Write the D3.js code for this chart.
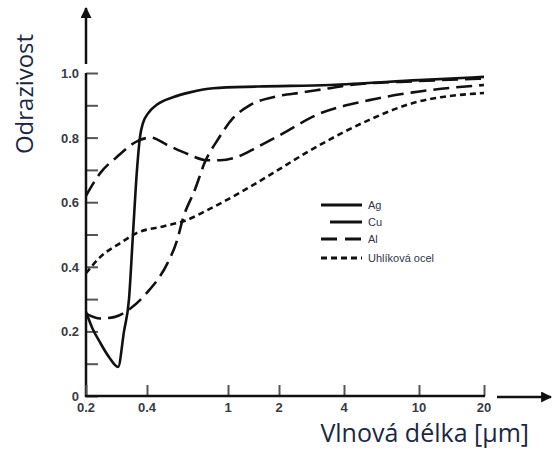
<!DOCTYPE html>
<html>
<head>
<meta charset="utf-8">
<script src="https://cdn.jsdelivr.net/npm/d3@7"></script>
<style>
  body { margin: 0; background: #fff; }
  svg { display: block; }
</style>
</head>
<body>
<svg id="chart"></svg>
<script>
// values
var xTicks = [0.2, 0.4, 1, 2, 4, 10, 20]
var xTickLabels = ['0.2', '0.4', '1', '2', '4', '10', '20']
var yTicks = [0, 0.1, 0.2, 0.3, 0.4, 0.5, 0.6, 0.7, 0.8, 0.9, 1.0]
var yTickLabels = ['0', '', '0.2', '', '0.4', '', '0.6', '', '0.8', '', '1.0']

var agW = [0.2, 0.215, 0.235, 0.26, 0.288, 0.308, 0.326, 0.341, 0.357, 0.369, 0.382, 0.405, 0.45, 0.537, 0.65, 0.844, 1.5, 3.44, 10, 20]
var agR = [0.26, 0.21, 0.165, 0.12, 0.09, 0.2, 0.3, 0.5, 0.7, 0.8, 0.845, 0.875, 0.903, 0.925, 0.94, 0.953, 0.958, 0.963, 0.978, 0.988]

var cuW = [0.2, 0.235, 0.278, 0.33, 0.4, 0.503, 0.561, 0.601, 0.689, 0.771, 0.883, 1.07, 1.34, 1.84, 2.58, 3.44, 4.3, 10, 20]
var cuR = [0.255, 0.24, 0.245, 0.27, 0.32, 0.41, 0.48, 0.55, 0.64, 0.725, 0.79, 0.86, 0.9, 0.925, 0.94, 0.953, 0.963, 0.975, 0.983]

var alW = [0.2, 0.235, 0.284, 0.361, 0.417, 0.503, 0.629, 0.789, 0.914, 1.13, 1.48, 2.18, 2.87, 5.45, 9.29, 20]
var alR = [0.62, 0.69, 0.74, 0.79, 0.8, 0.777, 0.75, 0.73, 0.73, 0.74, 0.77, 0.82, 0.865, 0.916, 0.94, 0.963]

var ocelW = [0.2, 0.235, 0.298, 0.357, 0.48, 0.629, 0.789, 1.18, 1.48, 1.84, 2.87, 5.45, 9.29, 20]
var ocelR = [0.38, 0.43, 0.475, 0.505, 0.525, 0.545, 0.575, 0.63, 0.66, 0.69, 0.765, 0.855, 0.907, 0.938]

var legendNames = ['Ag', 'Cu', 'Al', 'Uhlíková ocel']

var W = 552, H = 450

var svg = d3.select('#chart')
    .attr('width', W)
    .attr('height', H)

// the original axis is only roughly logarithmic, so map log10 piecewise onto its tick spots
var xLog = d3.scaleLinear()
    .domain(xTicks.map(Math.log10))
    .range([86, 147, 228, 279, 344, 419, 484])
var x = function(v) { return xLog(Math.log10(v)) }

var y = d3.scaleLinear()
    .domain([0, 1])
    .range([396, 73])

var ink = '#111'
var tickFont = '"Liberation Sans", Arial, sans-serif'
var titleFont = '"Open Sans", "Noto Sans", sans-serif'

// arrowheads
var defs = svg.append('defs')
defs.append('marker')
    .attr('id', 'head')
    .attr('viewBox', '0 0 10 10')
    .attr('refX', 9)
    .attr('refY', 5)
    .attr('markerUnits', 'userSpaceOnUse')
    .attr('markerWidth', 17)
    .attr('markerHeight', 11)
    .attr('orient', 'auto')
  .append('path')
    .attr('d', 'M0,0 L10,5 L0,10 z')
    .attr('fill', ink)

// y axis: ticks pointing into the plot
var yAxis = svg.append('g')
    .attr('transform', 'translate(' + x(xTicks[0]) + ',0)')
    .call(d3.axisRight(y)
      .tickValues(yTicks)
      .tickSize(12)
      .tickFormat(''))
yAxis.select('.domain').remove()
yAxis.selectAll('.tick text').remove()
yAxis.selectAll('.tick line')
    .attr('stroke', '#555')
    .attr('stroke-width', 2)
yAxis.append('line')
    .attr('y1', y(0) + 1)
    .attr('y2', y(1))
    .attr('stroke', ink)
    .attr('stroke-width', 2.5)

svg.append('g').selectAll('text')
    .data(yTicks)
  .enter().append('text')
    .attr('x', 79)
    .attr('y', function(d) { return y(d) + 5 })
    .attr('text-anchor', 'end')
    .style('font-family', tickFont)
    .style('font-size', '13px')
    .style('font-weight', 'bold')
    .style('fill', '#3a3a44')
    .text(function(d, i) { return yTickLabels[i] })

// x axis: ticks pointing up
var xAxis = svg.append('g')
    .attr('transform', 'translate(0,' + y(0) + ')')
    .call(d3.axisTop(xLog)
      .tickValues(xTicks.map(Math.log10))
      .tickSize(11)
      .tickFormat(''))
xAxis.select('.domain').remove()
xAxis.selectAll('.tick text').remove()
xAxis.selectAll('.tick line')
    .attr('stroke', '#555')
    .attr('stroke-width', 2)
xAxis.append('line')
    .attr('x1', x(xTicks[0]) - 1)
    .attr('x2', x(xTicks[xTicks.length - 1]) + 1)
    .attr('stroke', ink)
    .attr('stroke-width', 2.5)

svg.append('g').selectAll('text')
    .data(xTicks)
  .enter().append('text')
    .attr('x', function(d) { return x(d) })
    .attr('y', y(0) + 16)
    .attr('text-anchor', 'middle')
    .style('font-family', tickFont)
    .style('font-size', '13px')
    .style('font-weight', 'bold')
    .style('fill', '#3a3a44')
    .text(function(d, i) { return xTickLabels[i] })

// free-standing arrows beyond the axes
svg.append('line')
    .attr('x1', 86).attr('y1', 64)
    .attr('x2', 86).attr('y2', 8)
    .attr('stroke', ink)
    .attr('stroke-width', 2.5)
    .attr('marker-end', 'url(#head)')
svg.append('line')
    .attr('x1', 497).attr('y1', y(0) + 1)
    .attr('x2', 551).attr('y2', y(0) + 1)
    .attr('stroke', ink)
    .attr('stroke-width', 2.5)
    .attr('marker-end', 'url(#head)')

// axis titles
svg.append('text')
    .attr('transform', 'translate(33,94) rotate(-90)')
    .attr('text-anchor', 'middle')
    .style('font-family', titleFont)
    .style('font-size', '24px')
    .style('fill', '#1c2742')
    .text('Odrazivost')

svg.append('text')
    .attr('x', 529)
    .attr('y', 442)
    .attr('text-anchor', 'end')
    .style('font-family', titleFont)
    .style('font-size', '25px')
    .style('fill', '#1c2742')
    .text('Vlnová délka [µm]')

// curves
var line = d3.line()
    .x(function(d) { return x(d[0]) })
    .y(function(d) { return y(d[1]) })
    .curve(d3.curveMonotoneX)

function draw(ws, rs, dash) {
  svg.append('path')
      .datum(d3.zip(ws, rs))
      .attr('d', line)
      .attr('fill', 'none')
      .attr('stroke', ink)
      .attr('stroke-width', 2.6)
      .attr('stroke-dasharray', dash)
}

draw(ocelW, ocelR, '6,4')
draw(alW, alR, '16,7')
draw(cuW, cuR, '16,7')
draw(agW, agR, null)

// legend
var legendDash = [null, null, '16,8', '6,4']
var legendStart = [321, 330, 321, 321]
var legendY = [205, 222, 239, 258]

var legend = svg.append('g')
legend.selectAll('line')
    .data(legendNames)
  .enter().append('line')
    .attr('x1', function(d, i) { return legendStart[i] })
    .attr('x2', 362)
    .attr('y1', function(d, i) { return legendY[i] })
    .attr('y2', function(d, i) { return legendY[i] })
    .attr('stroke', ink)
    .attr('stroke-width', 3)
    .attr('stroke-dasharray', function(d, i) { return legendDash[i] })

legend.selectAll('text')
    .data(legendNames)
  .enter().append('text')
    .attr('x', 368)
    .attr('y', function(d, i) { return legendY[i] + 4 })
    .style('font-family', tickFont)
    .style('font-size', '11px')
    .style('fill', '#33364a')
    .text(function(d) { return d })
</script>
</body>
</html>
